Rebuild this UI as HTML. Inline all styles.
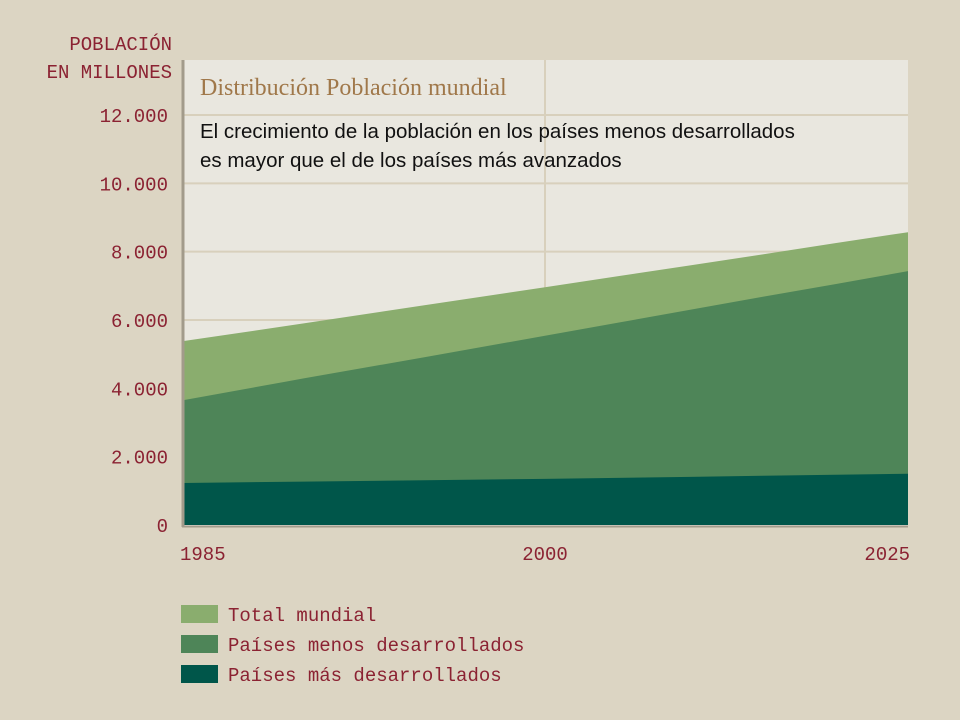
<!DOCTYPE html>
<html><head><meta charset="utf-8">
<style>
body{margin:0;background:#dcd5c3;}
svg{display:block;}
.ax{font-family:"Liberation Mono",monospace;font-size:19px;fill:#8b2232;}
</style></head>
<body>
<svg id="chart" width="960" height="720" xmlns="http://www.w3.org/2000/svg">
  <rect x="0" y="0" width="960" height="720" fill="#dcd5c3"/>
  <rect x="184" y="60" width="724" height="466" fill="#e9e7df"/>
  <g id="grid"></g>
  <g id="areas"></g>
  <line x1="183" y1="60" x2="183" y2="527" stroke="#a29b8b" stroke-width="3"/>
  <line x1="182" y1="526.5" x2="908" y2="526.5" stroke="#a29b8b" stroke-width="2"/>
  <text x="200" y="95" font-family="Liberation Serif,serif" font-size="24" fill="#a0784a">Distribución Población mundial</text>
  <text x="200" y="138" font-family="Liberation Sans,sans-serif" font-size="20.5" fill="#111">El crecimiento de la población en los países menos desarrollados</text>
  <text x="200" y="167" font-family="Liberation Sans,sans-serif" font-size="20.5" fill="#111">es mayor que el de los países más avanzados</text>
  <text x="172" y="50" text-anchor="end" class="ax" font-size="17">POBLACIÓN</text>
  <text x="172" y="78" text-anchor="end" class="ax" font-size="17">EN MILLONES</text>
  <g id="yticks"></g>
  <g id="xticks"></g>
  <g>
    <g>
      <rect x="181" y="605" width="37" height="18" fill="#8aad6e"/>
      <text x="228" y="621" class="ax" font-size="18">Total mundial</text>
    </g>
    <g>
      <rect x="181" y="635" width="37" height="18" fill="#4e8558"/>
      <text x="228" y="651" class="ax" font-size="18">Países menos desarrollados</text>
    </g>
    <g>
      <rect x="181" y="665" width="37" height="18" fill="#00564a"/>
      <text x="228" y="681" class="ax" font-size="18">Países más desarrollados</text>
    </g>
  </g>
</svg>
<script>
const years = [1985,1990,1995,2000,2005,2010,2015,2020,2025];
const totalWorld = [5380,5900,6430,6960,7280,7600,7920,8250,8570];
const lessDeveloped = [3650,4290,4910,5540,5920,6300,6680,7050,7430];
const moreDeveloped = [1230,1270,1310,1350,1380,1410,1440,1470,1500];
const yTickValues = [0,2000,4000,6000,8000,10000,12000];
const yTickLabels = ["0","2.000","4.000","6.000","8.000","10.000","12.000"];
const xTickValues = [1985,2000,2025];
const xTickLabels = ["1985","2000","2025"];

const NS="http://www.w3.org/2000/svg";
function yScale(v){return 525 - v*(410/12000);}
function xScale(yr){
  if(yr<=2000) return 183 + (yr-1985)/15*(545-183);
  return 545 + (yr-2000)/25*(908-545);
}
const grid=document.getElementById('grid');
yTickValues.forEach((v,i)=>{
  if(v>0){
    const l=document.createElementNS(NS,'line');
    
    
    l.setAttribute('x1',184);l.setAttribute('x2',908);
    l.setAttribute('y1',yScale(v));l.setAttribute('y2',yScale(v));
    l.setAttribute('stroke','#d8d0bc');l.setAttribute('stroke-width','2');
    grid.appendChild(l);
  }
  const t=document.createElementNS(NS,'text');
  
  
  t.setAttribute('x',168);t.setAttribute('y',yScale(v)+7);
  t.setAttribute('text-anchor','end');t.setAttribute('class','ax');
  t.textContent=yTickLabels[i];
  document.getElementById('yticks').appendChild(t);
});
xTickValues.forEach((v,i)=>{
  if(v===2000){
    const l=document.createElementNS(NS,'line');
    
    
    l.setAttribute('x1',xScale(v));l.setAttribute('x2',xScale(v));
    l.setAttribute('y1',60);l.setAttribute('y2',525);
    l.setAttribute('stroke','#d8d0bc');l.setAttribute('stroke-width','2');
    grid.appendChild(l);
  }
  const t=document.createElementNS(NS,'text');
  
  
  let x=xScale(v), anchor='middle';
  if(i===0){anchor='start';x=180;}
  if(i===xTickValues.length-1){anchor='end';x=910;}
  t.setAttribute('x',x);t.setAttribute('y',560);
  t.setAttribute('text-anchor',anchor);t.setAttribute('class','ax');
  t.textContent=xTickLabels[i];
  document.getElementById('xticks').appendChild(t);
});
function area(vals,color,name){
  let d='M'+xScale(years[0])+','+yScale(0);
  years.forEach((yr,i)=>{d+=' L'+xScale(yr)+','+yScale(vals[i]);});
  d+=' L'+xScale(years[years.length-1])+','+yScale(0)+' Z';
  const p=document.createElementNS(NS,'path');
  
  
  p.setAttribute('d',d);p.setAttribute('fill',color);
  document.getElementById('areas').appendChild(p);
}
area(totalWorld,'#8aad6e','area-total-world');
area(lessDeveloped,'#4e8558','area-less-developed');
area(moreDeveloped,'#00564a','area-more-developed');
</script>
</body></html>
